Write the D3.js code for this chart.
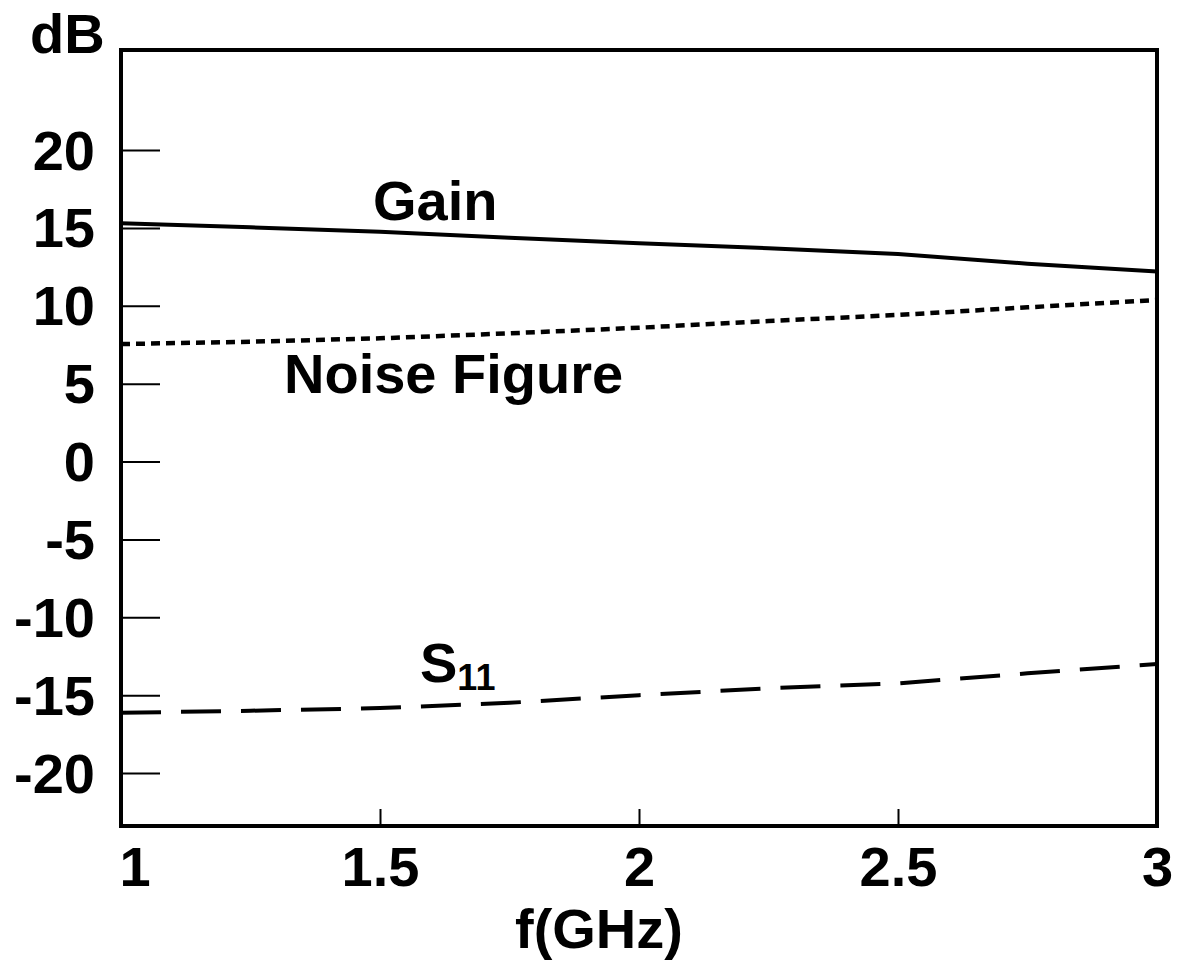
<!DOCTYPE html>
<html>
<head>
<meta charset="utf-8">
<script src="https://d3js.org/d3.v7.min.js"></script>
<style>
body { margin: 0; background: white; }
text { font-family: "Liberation Sans", Arial, sans-serif; font-weight: bold; fill: black; }
</style>
</head>
<body>
<script>
// values (dB vs GHz)
var freq = [1, 1.25, 1.5, 1.75, 2, 2.25, 2.5, 2.75, 3];
var gain = [15.3, 15.04, 14.75, 14.37, 14.01, 13.69, 13.32, 12.7, 12.2];
var noiseFigure = [7.54, 7.69, 7.91, 8.23, 8.59, 9.02, 9.41, 9.9, 10.37];
var s11 = [-16.13, -16.0, -15.83, -15.49, -15.0, -14.56, -14.24, -13.6, -13.0];

var xTicks = [1, 1.5, 2, 2.5, 3];
var yTicks = [-20, -15, -10, -5, 0, 5, 10, 15, 20];

var svgContainer = d3.select("body").append("svg")
	.attr("width", 1187)
	.attr("height", 967);

// plot box (window.top is reserved, so no plain "top")
var plotLeft = 121, plotRight = 1157, plotTop = 50, plotBottom = 826;

var x = d3.scaleLinear().domain([1, 3]).range([plotLeft, plotRight]);
var y = d3.scaleLinear().domain([-23.4, 26.42]).range([plotBottom, plotTop]);

// plain hyphen for negatives, like the original
var plainFormat = function(d) { return String(d); };

// y axis, ticks pointing inwards
var yAxis = svgContainer.append("g")
	.attr("transform", "translate(" + plotLeft + ",0)")
	.call(d3.axisLeft(y).tickValues(yTicks).tickSizeInner(-39).tickSizeOuter(0).tickPadding(26).tickFormat(plainFormat));
yAxis.select(".domain").remove();
yAxis.selectAll("line").attr("stroke", "black").attr("stroke-width", 2);
yAxis.selectAll("text")
	.style("font-size", "56px")
	.attr("fill", "black")
	.attr("dy", "0.34em");

// x axis
var xAxis = svgContainer.append("g")
	.attr("transform", "translate(0," + plotBottom + ")")
	.call(d3.axisBottom(x).tickValues(xTicks).tickSizeInner(-17).tickSizeOuter(0).tickPadding(20).tickFormat(plainFormat));
xAxis.select(".domain").remove();
xAxis.selectAll("line").attr("stroke", "black").attr("stroke-width", 2);
xAxis.selectAll("text")
	.style("font-size", "56px")
	.attr("fill", "black");
// first label sits just right of the corner
xAxis.selectAll("text").filter(function(d) { return d == 1; })
	.attr("text-anchor", "start")
	.attr("x", -2);

// curves
var line = d3.line()
	.x(function(d, i) { return x(freq[i]); })
	.y(function(d) { return y(d); });

svgContainer.append("path")
	.datum(gain)
	.attr("d", line)
	.attr("fill", "none")
	.attr("stroke", "black")
	.attr("stroke-width", 4);

svgContainer.append("path")
	.datum(noiseFigure)
	.attr("d", line)
	.attr("fill", "none")
	.attr("stroke", "black")
	.attr("stroke-width", 4.5)
	.attr("stroke-dasharray", "9,6");

svgContainer.append("path")
	.datum(s11)
	.attr("d", line)
	.attr("fill", "none")
	.attr("stroke", "black")
	.attr("stroke-width", 4)
	.attr("stroke-dasharray", "40,20");

// frame
svgContainer.append("rect")
	.attr("x", plotLeft)
	.attr("y", plotTop)
	.attr("width", plotRight - plotLeft)
	.attr("height", plotBottom - plotTop)
	.attr("fill", "none")
	.attr("stroke", "black")
	.attr("stroke-width", 4);

// labels
svgContainer.append("text")
	.attr("x", 30)
	.attr("y", 53)
	.style("font-size", "56px")
	.text("dB");

svgContainer.append("text")
	.attr("x", 515)
	.attr("y", 948)
	.style("font-size", "56px")
	.text("f(GHz)");

svgContainer.append("text")
	.attr("x", 373)
	.attr("y", 220)
	.style("font-size", "56px")
	.text("Gain");

svgContainer.append("text")
	.attr("x", 284)
	.attr("y", 393)
	.style("font-size", "56px")
	.text("Noise Figure");

var s11Label = svgContainer.append("text")
	.attr("x", 420)
	.attr("y", 682)
	.style("font-size", "56px");
s11Label.append("tspan").text("S");
s11Label.append("tspan")
	.attr("dy", 8)
	.style("font-size", "36px")
	.text("11");
</script>
</body>
</html>
